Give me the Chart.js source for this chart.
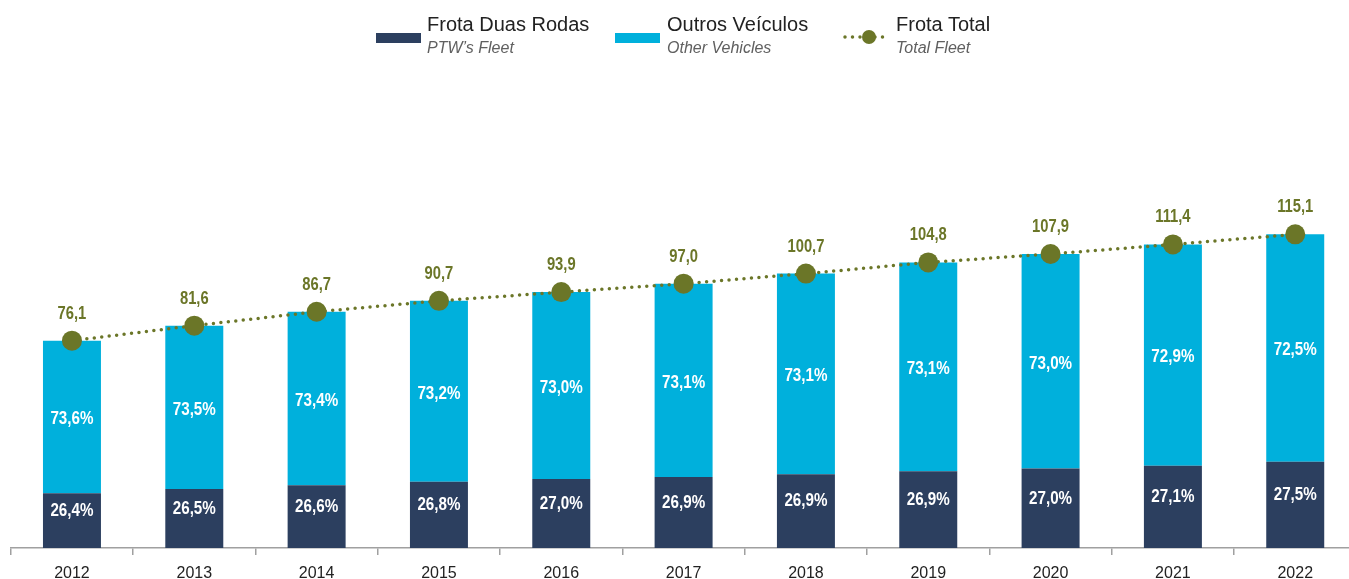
<!DOCTYPE html>
<html lang="pt">
<head>
    <meta charset="UTF-8">
    <title>Frota Duas Rodas</title>
    <script src="https://cdn.jsdelivr.net/npm/chart.js"></script>
    <style>
        body { margin: 0; overflow: hidden; background: #fff; font-family: "Liberation Sans", Arial, sans-serif; }
        #wrap { position: relative; width: 1349px; height: 579px; overflow: hidden; }
        #myChart { position: absolute; left: 0; top: 0; }
        .sw { position: absolute; width: 45px; height: 10px; top: 33px; }
        .main { position: absolute; top: 14px; font-size: 20px; line-height: 20px; color: #222; white-space: nowrap; }
        .sub { position: absolute; top: 39px; font-size: 16px; line-height: 18px; color: #606060; font-style: italic; white-space: nowrap; }
    </style>
</head>
<body>
<div id="wrap">
    <canvas id="myChart" width="1358" height="593"></canvas>

    <div class="sw" style="left:376px; background:#2c3f5f;"></div>
    <div class="main" style="left:427px;">Frota Duas Rodas</div>
    <div class="sub" style="left:427px;">PTW’s Fleet</div>

    <div class="sw" style="left:615px; background:#00b0dc;"></div>
    <div class="main" style="left:667px;">Outros Veículos</div>
    <div class="sub" style="left:667px;">Other Vehicles</div>

    <canvas id="lineIcon" width="50" height="20" style="position:absolute; left:842px; top:27px;"></canvas>
    <div class="main" style="left:896px;">Frota Total</div>
    <div class="sub" style="left:896px;">Total Fleet</div>
</div>

<script>
    const years = ['2012', '2013', '2014', '2015', '2016', '2017', '2018', '2019', '2020', '2021', '2022'];
    const totalFleet = [76.1, 81.6, 86.7, 90.7, 93.9, 97.0, 100.7, 104.8, 107.9, 111.4, 115.1];
    const ptwShare = [26.4, 26.5, 26.6, 26.8, 27.0, 26.9, 26.9, 26.9, 27.0, 27.1, 27.5];
    const otherShare = [73.6, 73.5, 73.4, 73.2, 73.0, 73.1, 73.1, 73.1, 73.0, 72.9, 72.5];

    const darkBlue = '#2c3f5f';
    const lightBlue = '#00b0dc';
    const olive = '#6b7628';
    const fontFamily = '"Liberation Sans", Arial, sans-serif';

    function fmt(v, d) {
        return v.toFixed(d).replace('.', ',');
    }

    // segment heights = share of the total
    const ptwValues = totalFleet.map((t, i) => t * ptwShare[i] / 100);
    const otherValues = totalFleet.map((t, i) => t * otherShare[i] / 100);

    // legend icon for the dotted line
    (function () {
        const c = document.getElementById('lineIcon').getContext('2d');
        c.strokeStyle = olive;
        c.lineWidth = 3.5;
        c.lineCap = 'round';
        c.setLineDash([0, 7.5]);
        c.beginPath();
        c.moveTo(3, 10);
        c.lineTo(48, 10);
        c.stroke();
        c.fillStyle = olive;
        c.beginPath();
        c.arc(27, 10, 7, 0, Math.PI * 2);
        c.fill();
    })();

    // condensed text (no narrow font installed)
    function narrowText(ctx, text, x, y, sx) {
        ctx.save();
        ctx.translate(x, y);
        ctx.scale(sx, 1);
        ctx.fillText(text, 0, 0);
        ctx.restore();
    }

    const labelPlugin = {
        id: 'valueLabels',
        afterDatasetsDraw(chart) {
            const ctx = chart.ctx;
            ctx.save();
            ctx.textAlign = 'center';
            ctx.textBaseline = 'middle';
            ctx.font = 'bold 19px ' + fontFamily;
            ctx.fillStyle = '#ffffff';
            chart.getDatasetMeta(1).data.forEach((bar, i) => {
                narrowText(ctx, fmt(ptwShare[i], 1) + '%', bar.x, (bar.y + bar.base) / 2 - 10, 0.8);
            });
            chart.getDatasetMeta(2).data.forEach((bar, i) => {
                narrowText(ctx, fmt(otherShare[i], 1) + '%', bar.x, (bar.y + bar.base) / 2 + 2, 0.8);
            });
            ctx.fillStyle = olive;
            ctx.font = 'bold 18px ' + fontFamily;
            chart.getDatasetMeta(0).data.forEach((pt, i) => {
                narrowText(ctx, fmt(totalFleet[i], 1), pt.x, pt.y - 27, 0.82);
            });
            ctx.restore();
        }
    };

    const ctx = document.getElementById('myChart').getContext('2d');
    new Chart(ctx, {
        type: 'bar',
        data: {
            labels: years,
            datasets: [{
                type: 'line',
                label: 'Frota Total',
                data: totalFleet,
                stack: 'total',
                order: 0,
                borderColor: olive,
                borderWidth: 3.5,
                borderDash: [0, 7.5],
                borderCapStyle: 'round',
                pointRadius: 10,
                pointBackgroundColor: olive,
                pointBorderColor: olive,
                pointBorderWidth: 0,
                fill: false,
                tension: 0
            }, {
                label: 'Frota Duas Rodas',
                data: ptwValues,
                stack: 'fleet',
                order: 1,
                backgroundColor: darkBlue,
                barPercentage: 0.474,
                categoryPercentage: 1
            }, {
                label: 'Outros Veículos',
                data: otherValues,
                stack: 'fleet',
                order: 1,
                backgroundColor: lightBlue,
                barPercentage: 0.474,
                categoryPercentage: 1
            }]
        },
        options: {
            responsive: false,
            animation: false,
            layout: { autoPadding: false, padding: { top: 112, left: 10.8, right: 1.6, bottom: 0 } },
            plugins: {
                legend: { display: false },
                tooltip: { enabled: false }
            },
            scales: {
                x: {
                    stacked: true,
                    border: { color: '#a0a0a0', width: 1.5 },
                    grid: { drawOnChartArea: false, drawTicks: true, tickLength: 7, color: '#a0a0a0', lineWidth: 1.5 },
                    ticks: { color: '#222', padding: 11, font: { size: 16, family: fontFamily, lineHeight: 1 } }
                },
                y: {
                    stacked: true,
                    display: false,
                    min: 0,
                    max: 160
                }
            }
        },
        plugins: [labelPlugin]
    });
</script>
</body>
</html>
